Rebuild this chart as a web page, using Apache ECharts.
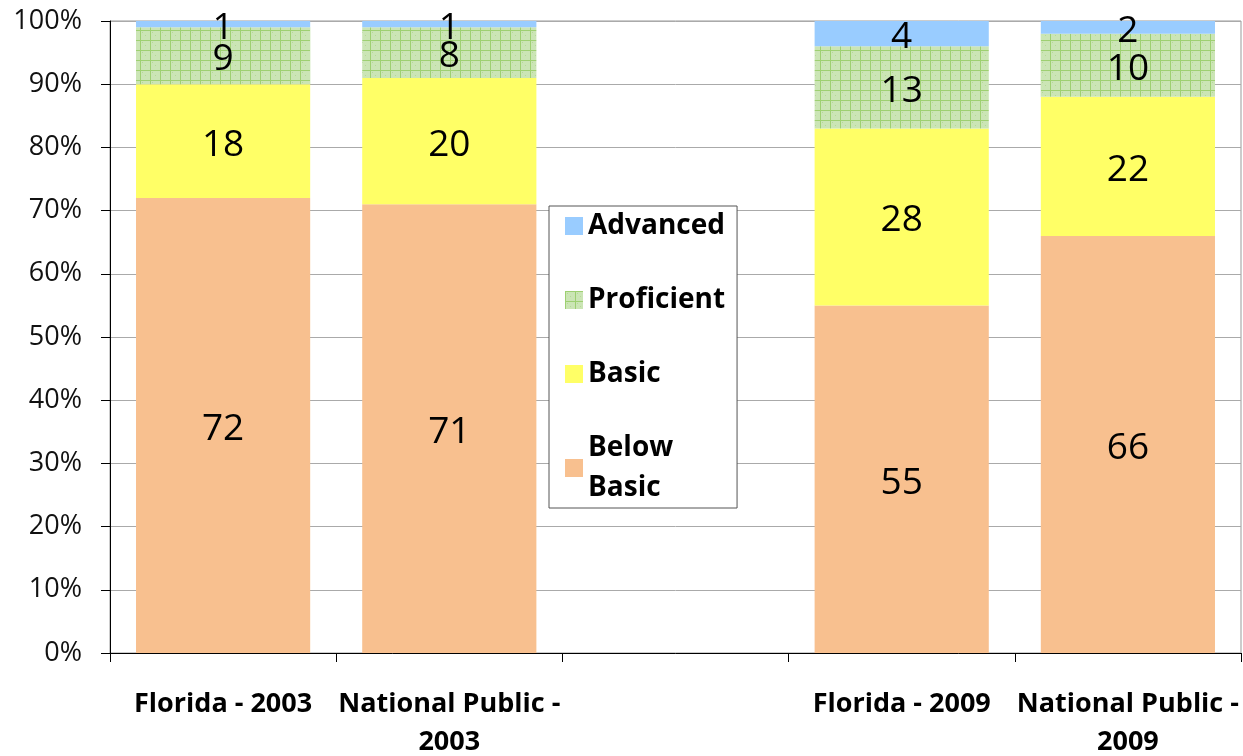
<!DOCTYPE html>
<html>
<head>
<meta charset="utf-8">
<script src="https://cdn.jsdelivr.net/npm/echarts@6/dist/echarts.min.js"></script>
<style>
  html, body { margin: 0; padding: 0; background: #fff; }
  #chart { width: 1243px; height: 756px; }
</style>
</head>
<body>
<div id="chart"></div>
<script>
// categories (empty slot is the gap between the two years)
const categories = ['Florida - 2003', 'National Public -\n2003', '', 'Florida - 2009', 'National Public -\n2009']
const belowBasic = [72, 71, '-', 55, 66]
const basic = [18, 20, '-', 28, 22]
const proficient = [9, 8, '-', 13, 10]
const advanced = [1, 1, '-', 4, 2]
const yTicks = [0, 10, 20, 30, 40, 50, 60, 70, 80, 90, 100]

// green grid pattern for Proficient
function makePattern() {
  const c = document.createElement('canvas')
  c.width = 10
  c.height = 10
  const ctx = c.getContext('2d')
  ctx.fillStyle = '#cbe5b5'
  ctx.fillRect(0, 0, 10, 10)
  ctx.fillStyle = '#b5da95'
  ctx.fillRect(5, 5, 1, 1)
  ctx.fillRect(2, 2, 1, 1)
  ctx.fillStyle = '#9ed071'
  ctx.fillRect(0, 0, 10, 1)
  ctx.fillRect(0, 0, 1, 10)
  return c
}

const chart = echarts.init(document.getElementById('chart'))
const font = '"Open Sans", "DejaVu Sans", sans-serif'

function seriesOf(name, data, color) {
  return {
    name: name,
    type: 'bar',
    stack: 'total',
    barWidth: '77%',
    data: data,
    itemStyle: { color: color },
    label: {
      show: true,
      position: 'inside',
      offset: [0, 4],
      color: '#000',
      fontSize: 37,
      fontFamily: font
    },
    emphasis: { disabled: true }
  }
}

chart.setOption({
  animation: false,
  grid: {
    left: 110,
    right: 2,
    top: 21,
    bottom: 103,
    outerBoundsMode: 'none',
    containLabel: false,
    show: true,
    borderColor: '#999',
    borderWidth: 1
  },
  legend: {
    orient: 'vertical',
    left: 549,
    top: 206,
    padding: [0, 12, 0, 16],
    backgroundColor: '#fff',
    borderColor: '#555',
    borderWidth: 1,
    icon: 'rect',
    itemWidth: 18,
    itemHeight: 18,
    itemGap: 34,
    data: ['Advanced', 'Proficient', 'Basic', 'Below Basic'],
    formatter: function (n) { return n === 'Below Basic' ? 'Below\nBasic' : n },
    textStyle: {
      fontSize: 28,
      fontWeight: 'bold',
      fontFamily: font,
      color: '#000',
      lineHeight: 40
    }
  },
  xAxis: {
    type: 'category',
    data: categories,
    axisLine: { lineStyle: { color: '#000', width: 1 } },
    axisTick: { show: true, length: 9, lineStyle: { color: '#000' } },
    axisLabel: {
      interval: 0,
      margin: 32,
      fontSize: 27,
      fontWeight: 'bold',
      fontFamily: font,
      color: '#000',
      lineHeight: 38
    }
  },
  yAxis: {
    type: 'value',
    min: yTicks[0],
    max: yTicks[yTicks.length - 1],
    interval: 10,
    axisLine: { show: true, lineStyle: { color: '#000' } },
    axisTick: { show: true, length: 9, lineStyle: { color: '#000' } },
    axisLabel: {
      formatter: '{value}%',
      fontSize: 27,
      fontFamily: font,
      color: '#111',
      margin: 28
    },
    splitLine: { lineStyle: { color: '#aaa' } }
  },
  series: [
    seriesOf('Below Basic', belowBasic, '#f8c08f'),
    seriesOf('Basic', basic, '#ffff66'),
    seriesOf('Proficient', proficient, { image: makePattern(), repeat: 'repeat' }),
    seriesOf('Advanced', advanced, '#99ccff')
  ]
})
</script>
</body>
</html>
